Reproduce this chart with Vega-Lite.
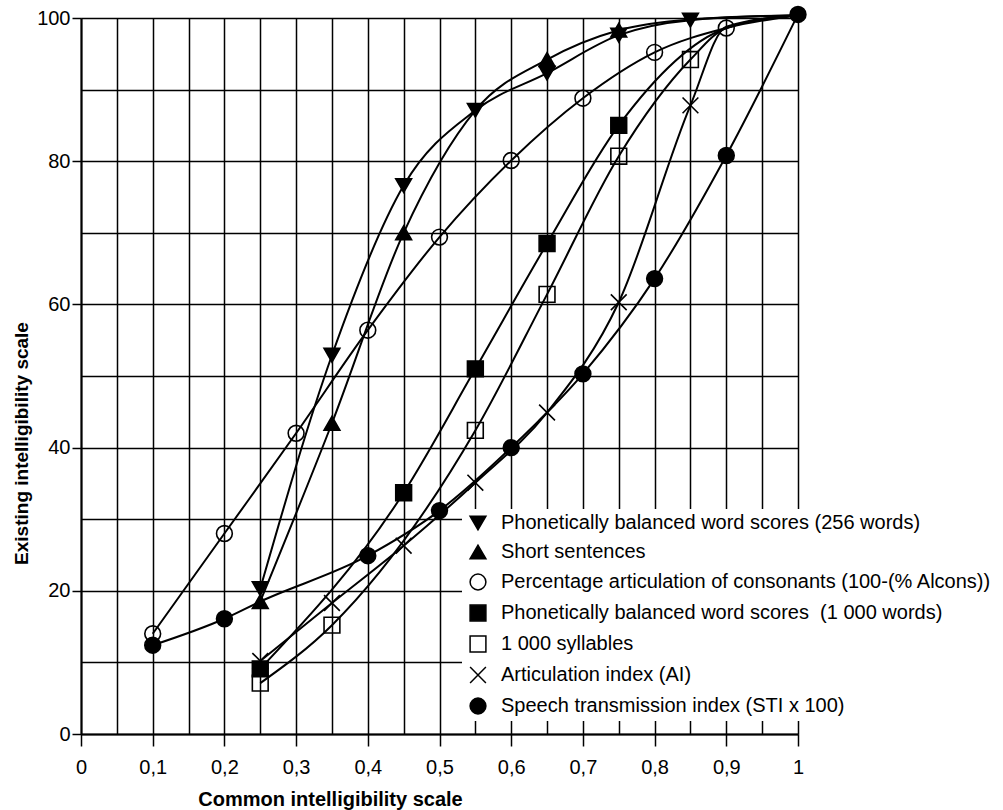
{
  "$schema": "https://vega.github.io/schema/vega-lite/v6.json",
  "width": 717,
  "height": 716,
  "autosize": {"type": "none"},
  "padding": {"left": 81, "top": 18, "right": 205, "bottom": 76},
  "background": "white",
  "config": {
    "font": "Liberation Sans",
    "view": {"stroke": null},
    "axis": {"labelColor": "black", "titleColor": "black", "gridColor": "black", "gridWidth": 1.5, "gridOpacity": 1, "domainColor": "black", "domainWidth": 2, "tickColor": "black", "tickWidth": 1.5}
  },
  "data": {
    "values": [
      {"series": "Phonetically balanced word scores (256 words)", "cis": 0.25, "score": 20.3, "marker": true},
      {"series": "Phonetically balanced word scores (256 words)", "cis": 0.35, "score": 52.9, "marker": true},
      {"series": "Phonetically balanced word scores (256 words)", "cis": 0.45, "score": 76.6, "marker": true},
      {"series": "Phonetically balanced word scores (256 words)", "cis": 0.55, "score": 87.1, "marker": true},
      {"series": "Phonetically balanced word scores (256 words)", "cis": 0.65, "score": 92.3, "marker": true},
      {"series": "Phonetically balanced word scores (256 words)", "cis": 0.75, "score": 97.6, "marker": true},
      {"series": "Phonetically balanced word scores (256 words)", "cis": 0.85, "score": 99.7, "marker": true},
      {"series": "Phonetically balanced word scores (256 words)", "cis": 1.0, "score": 100.4, "marker": false},
      {"series": "Short sentences", "cis": 0.25, "score": 18.5, "marker": true},
      {"series": "Short sentences", "cis": 0.35, "score": 43.4, "marker": true},
      {"series": "Short sentences", "cis": 0.45, "score": 70.0, "marker": true},
      {"series": "Short sentences", "cis": 0.55, "score": 87.1, "marker": false},
      {"series": "Short sentences", "cis": 0.65, "score": 94.2, "marker": true},
      {"series": "Short sentences", "cis": 0.75, "score": 98.3, "marker": true},
      {"series": "Short sentences", "cis": 0.85, "score": 99.8, "marker": false},
      {"series": "Short sentences", "cis": 1.0, "score": 100.4, "marker": false},
      {"series": "Percentage articulation of consonants (100-(% Alcons))", "cis": 0.1, "score": 14.0, "marker": true},
      {"series": "Percentage articulation of consonants (100-(% Alcons))", "cis": 0.2, "score": 28.0, "marker": true},
      {"series": "Percentage articulation of consonants (100-(% Alcons))", "cis": 0.3, "score": 42.0, "marker": true},
      {"series": "Percentage articulation of consonants (100-(% Alcons))", "cis": 0.4, "score": 56.4, "marker": true},
      {"series": "Percentage articulation of consonants (100-(% Alcons))", "cis": 0.5, "score": 69.4, "marker": true},
      {"series": "Percentage articulation of consonants (100-(% Alcons))", "cis": 0.6, "score": 80.1, "marker": true},
      {"series": "Percentage articulation of consonants (100-(% Alcons))", "cis": 0.7, "score": 88.8, "marker": true},
      {"series": "Percentage articulation of consonants (100-(% Alcons))", "cis": 0.8, "score": 95.2, "marker": true},
      {"series": "Percentage articulation of consonants (100-(% Alcons))", "cis": 0.9, "score": 98.6, "marker": true},
      {"series": "Percentage articulation of consonants (100-(% Alcons))", "cis": 1.0, "score": 100.4, "marker": false},
      {"series": "Phonetically balanced word scores \u00a0(1 000 words)", "cis": 0.25, "score": 9.1, "marker": true},
      {"series": "Phonetically balanced word scores \u00a0(1 000 words)", "cis": 0.45, "score": 33.7, "marker": true},
      {"series": "Phonetically balanced word scores \u00a0(1 000 words)", "cis": 0.55, "score": 51.0, "marker": true},
      {"series": "Phonetically balanced word scores \u00a0(1 000 words)", "cis": 0.65, "score": 68.5, "marker": true},
      {"series": "Phonetically balanced word scores \u00a0(1 000 words)", "cis": 0.75, "score": 85.0, "marker": true},
      {"series": "Phonetically balanced word scores \u00a0(1 000 words)", "cis": 0.9, "score": 98.6, "marker": false},
      {"series": "Phonetically balanced word scores \u00a0(1 000 words)", "cis": 1.0, "score": 100.4, "marker": false},
      {"series": "1 000 syllables", "cis": 0.25, "score": 7.1, "marker": true},
      {"series": "1 000 syllables", "cis": 0.35, "score": 15.2, "marker": true},
      {"series": "1 000 syllables", "cis": 0.55, "score": 42.4, "marker": true},
      {"series": "1 000 syllables", "cis": 0.65, "score": 61.4, "marker": true},
      {"series": "1 000 syllables", "cis": 0.75, "score": 80.7, "marker": true},
      {"series": "1 000 syllables", "cis": 0.85, "score": 94.2, "marker": true},
      {"series": "1 000 syllables", "cis": 0.9, "score": 98.6, "marker": false},
      {"series": "1 000 syllables", "cis": 1.0, "score": 100.4, "marker": false},
      {"series": "Articulation index (AI)", "cis": 0.25, "score": 10.2, "marker": true},
      {"series": "Articulation index (AI)", "cis": 0.35, "score": 18.3, "marker": true},
      {"series": "Articulation index (AI)", "cis": 0.45, "score": 26.3, "marker": true},
      {"series": "Articulation index (AI)", "cis": 0.55, "score": 35.1, "marker": true},
      {"series": "Articulation index (AI)", "cis": 0.65, "score": 44.9, "marker": true},
      {"series": "Articulation index (AI)", "cis": 0.75, "score": 60.3, "marker": true},
      {"series": "Articulation index (AI)", "cis": 0.85, "score": 87.8, "marker": true},
      {"series": "Articulation index (AI)", "cis": 0.9, "score": 98.8, "marker": false},
      {"series": "Articulation index (AI)", "cis": 1.0, "score": 100.4, "marker": false},
      {"series": "Speech transmission index (STI x 100)", "cis": 0.1, "score": 12.4, "marker": true},
      {"series": "Speech transmission index (STI x 100)", "cis": 0.2, "score": 16.1, "marker": true},
      {"series": "Speech transmission index (STI x 100)", "cis": 0.25, "score": 18.5, "marker": false},
      {"series": "Speech transmission index (STI x 100)", "cis": 0.4, "score": 24.9, "marker": true},
      {"series": "Speech transmission index (STI x 100)", "cis": 0.5, "score": 31.2, "marker": true},
      {"series": "Speech transmission index (STI x 100)", "cis": 0.6, "score": 40.0, "marker": true},
      {"series": "Speech transmission index (STI x 100)", "cis": 0.7, "score": 50.3, "marker": true},
      {"series": "Speech transmission index (STI x 100)", "cis": 0.8, "score": 63.6, "marker": true},
      {"series": "Speech transmission index (STI x 100)", "cis": 0.9, "score": 80.8, "marker": true},
      {"series": "Speech transmission index (STI x 100)", "cis": 1.0, "score": 100.5, "marker": true}
    ]
  },
  "encoding": {
    "x": {
      "field": "cis", "type": "quantitative",
      "scale": {"domain": [0, 1], "nice": false, "zero": false},
      "axis": {
        "values": [0, 0.05, 0.1, 0.15, 0.2, 0.25, 0.3, 0.35, 0.4, 0.45, 0.5, 0.55, 0.6, 0.65, 0.7, 0.75, 0.8, 0.85, 0.9, 0.95, 1],
        "grid": true,
        "title": "Common intelligibility scale",
        "titleFontSize": 20, "titleFontWeight": "bold",
        "titleX": 249, "titleY": 71, "titleBaseline": "alphabetic", "titleAlign": "center",
        "labelFontSize": 20, "labelPadding": 11, "tickSize": 12,
        "labelFlush": false, "labelOverlap": false,
        "labelExpr": "round(datum.value*20) % 2 == 0 ? replace(format(datum.value, '~g'), '.', ',') : ''",
        "tickOpacity": {"condition": {"test": "round(datum.value*20) % 2 == 0", "value": 1}, "value": 0}
      }
    },
    "y": {
      "field": "score", "type": "quantitative",
      "scale": {"domain": [0, 100], "nice": false},
      "axis": {
        "values": [0, 10, 20, 30, 40, 50, 60, 70, 80, 90, 100],
        "grid": true,
        "title": "Existing intelligibility scale",
        "titleFontSize": 19, "titleFontWeight": "bold",
        "titleX": -60, "titleY": 425, "titleBaseline": "middle", "titleAlign": "center",
        "labelFontSize": 20, "labelPadding": 2, "tickSize": 9,
        "labelOverlap": false,
        "labelExpr": "datum.value % 20 == 0 ? datum.label : ''",
        "tickOpacity": {"condition": {"test": "datum.value % 20 == 0", "value": 1}, "value": 0}
      }
    }
  },
  "layer": [
    {
      "mark": {"type": "line", "color": "black", "strokeWidth": 2, "interpolate": "monotone"},
      "encoding": {"detail": {"field": "series", "type": "nominal"}}
    },
    {
      "transform": [{"filter": "datum.marker"}],
      "mark": {"type": "point", "stroke": "black", "strokeWidth": 1.6, "opacity": 1, "filled": false},
      "encoding": {
        "shape": {
          "field": "series", "type": "nominal",
          "scale": {
            "domain": ["Phonetically balanced word scores (256 words)", "Short sentences", "Percentage articulation of consonants (100-(% Alcons))", "Phonetically balanced word scores \u00a0(1 000 words)", "1 000 syllables", "Articulation index (AI)", "Speech transmission index (STI x 100)"],
            "range": ["triangle-down", "triangle-up", "circle", "square", "square", "M-1,-1L1,1M-1,1L1,-1", "circle"]
          },
          "legend": {
            "title": null, "orient": "none", "legendX": 381, "legendY": 491,
            "padding": 4, "fillColor": "white", "strokeColor": null,
            "labelFontSize": 20, "labelColor": "black", "labelLimit": 700,
            "rowPadding": 9, "labelOffset": 13, "symbolOffset": 2,
            "symbolStrokeColor": "black", "symbolStrokeWidth": 1.5
          }
        },
        "fill": {
          "field": "series", "type": "nominal",
          "scale": {
            "domain": ["Phonetically balanced word scores (256 words)", "Short sentences", "Percentage articulation of consonants (100-(% Alcons))", "Phonetically balanced word scores \u00a0(1 000 words)", "1 000 syllables", "Articulation index (AI)", "Speech transmission index (STI x 100)"],
            "range": ["black", "black", "transparent", "black", "transparent", "transparent", "black"]
          }
        },
        "size": {
          "field": "series", "type": "nominal",
          "scale": {
            "domain": ["Phonetically balanced word scores (256 words)", "Short sentences", "Percentage articulation of consonants (100-(% Alcons))", "Phonetically balanced word scores \u00a0(1 000 words)", "1 000 syllables", "Articulation index (AI)", "Speech transmission index (STI x 100)"],
            "range": [250, 250, 160, 120, 130, 120, 140]
          }
        }
      }
    }
  ]
}
